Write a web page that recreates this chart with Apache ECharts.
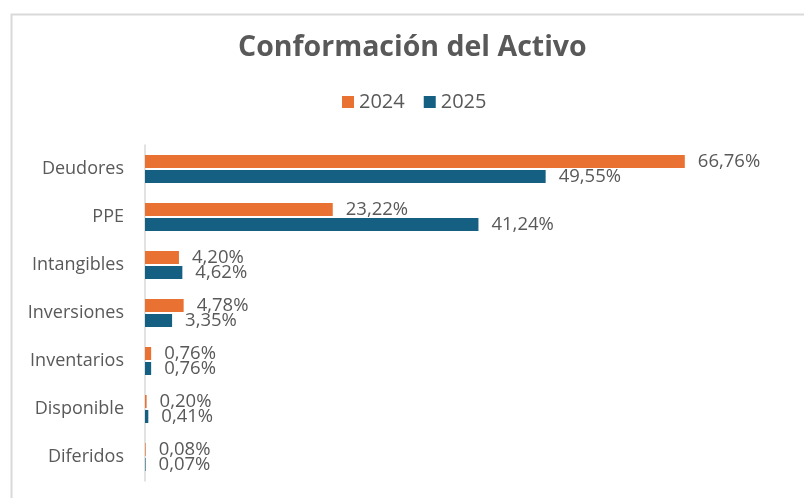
<!DOCTYPE html>
<html>
<head>
<meta charset="utf-8">
<script src="https://cdn.jsdelivr.net/npm/echarts@6/dist/echarts.min.js"></script>
<style>
  html, body { margin: 0; padding: 0; background: #fff; }
  #main { width: 804px; height: 498px; }
</style>
</head>
<body>
<div id="main"></div>
<script>
// datos
const categorias = ['Deudores', 'PPE', 'Intangibles', 'Inversiones', 'Inventarios', 'Disponible', 'Diferidos']
const valores2024 = [66.76, 23.22, 4.20, 4.78, 0.76, 0.20, 0.08]
const valores2025 = [49.55, 41.24, 4.62, 3.35, 0.76, 0.41, 0.07]

const gris = '#595959'
const fuente = 'Open Sans'

const chart = echarts.init(document.getElementById('main'))

const etiqueta = {
  show: true,
  position: 'right',
  distance: 13,
  color: gris,
  fontFamily: fuente,
  fontSize: 18.5,
  formatter: (p) => p.value.toFixed(2).replace('.', ',') + '%'
}

chart.setOption({
  animation: false,
  graphic: [{
    type: 'rect',
    left: 9, top: 12,
    shape: { width: 820, height: 520 },
    style: { fill: 'none', stroke: '#d9d9d9', lineWidth: 2 },
    silent: true
  }],
  title: {
    text: 'Conformación del Activo',
    left: 238,
    top: 33,
    padding: 0,
    textStyle: { color: gris, fontFamily: fuente, fontWeight: 'bold', fontSize: 28.5 }
  },
  legend: {
    top: 92,
    left: 342,
    padding: 0,
    itemWidth: 12,
    itemHeight: 12,
    itemGap: 19,
    icon: 'rect',
    textStyle: { color: gris, fontFamily: fuente, fontSize: 20 },
    data: ['2024', '2025']
  },
  grid: { left: 145, top: 145, width: 566, height: 336 },
  xAxis: {
    type: 'value',
    min: 0,
    max: 70,
    show: false
  },
  yAxis: {
    type: 'category',
    inverse: true,
    data: categorias,
    axisLine: { show: true, lineStyle: { color: '#d9d9d9', width: 1.5 } },
    axisTick: { show: false },
    axisLabel: { color: gris, fontFamily: fuente, fontSize: 18, margin: 21 }
  },
  series: [
    {
      name: '2024',
      type: 'bar',
      data: valores2024,
      barWidth: 13,
      barGap: '15%',
      itemStyle: { color: '#E97132' },
      label: etiqueta
    },
    {
      name: '2025',
      type: 'bar',
      data: valores2025,
      barWidth: 13,
      barGap: '15%',
      itemStyle: { color: '#156082' },
      label: etiqueta
    }
  ]
})
</script>
</body>
</html>
